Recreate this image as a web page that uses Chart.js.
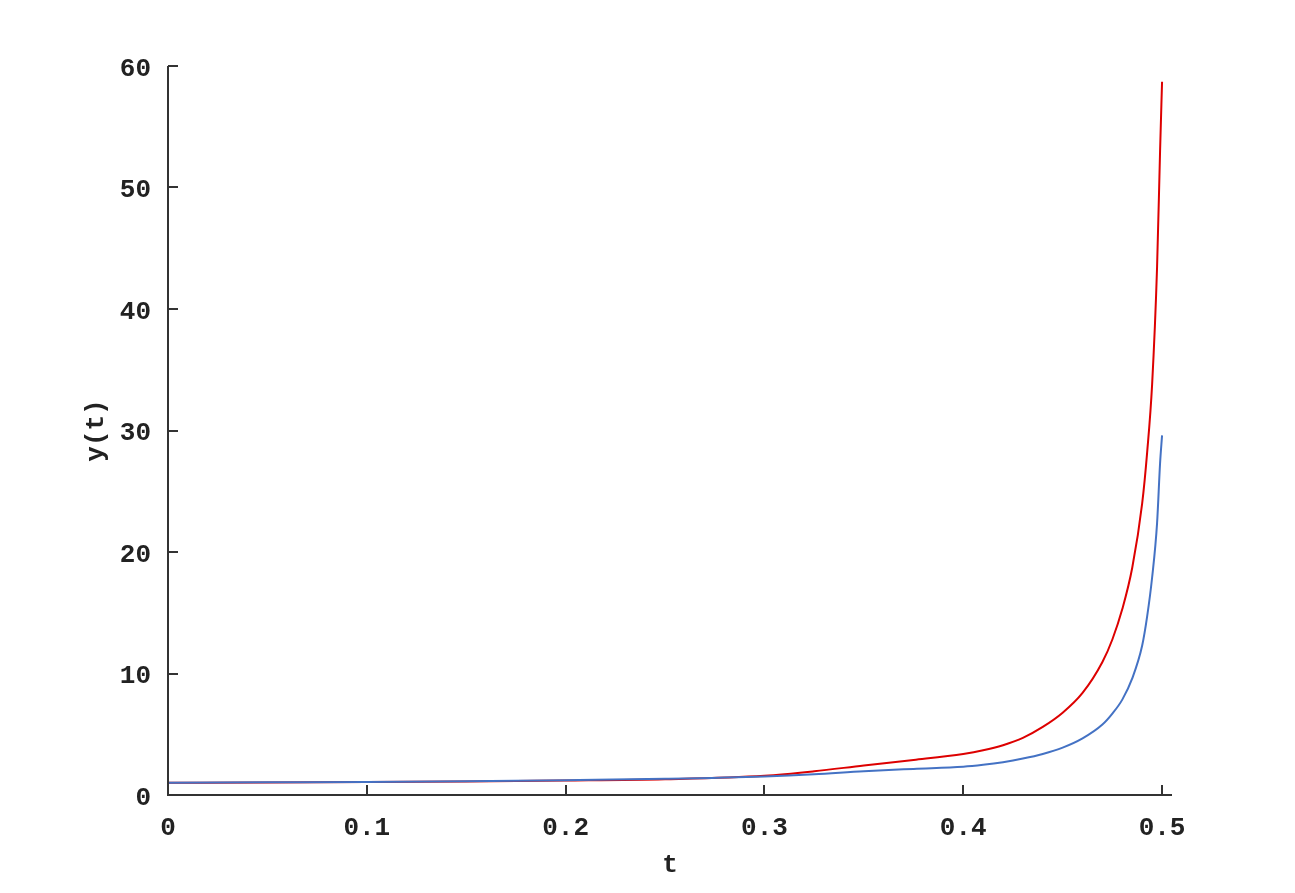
<!DOCTYPE html>
<html>
<head>
<meta charset="utf-8">
<script src="https://cdn.jsdelivr.net/npm/chart.js@4.4.1/dist/chart.umd.min.js"></script>
<style>
html,body{margin:0;padding:0;background:#fff;}
#wrap{width:1295px;height:893px;position:relative;}
</style>
</head>
<body>
<div id="wrap"><canvas id="c" width="1295" height="893"></canvas></div>
<script>
const tValues = [0, 0.05, 0.1, 0.15, 0.2, 0.25, 0.3, 0.325, 0.35, 0.375, 0.4, 0.41, 0.42, 0.43, 0.44, 0.45, 0.46, 0.47, 0.475, 0.48, 0.485, 0.49, 0.4925, 0.495, 0.4975, 0.499, 0.5];
const redValues = [1.0, 1.03, 1.07, 1.12, 1.19, 1.3, 1.58, 1.95, 2.43, 2.88, 3.38, 3.68, 4.1, 4.7, 5.6, 6.77, 8.4, 10.95, 12.8, 15.3, 18.7, 24.0, 28.2, 33.8, 43.5, 53.0, 58.7];
const blueValues = [1.0, 1.04, 1.08, 1.14, 1.22, 1.33, 1.52, 1.7, 1.96, 2.15, 2.32, 2.48, 2.7, 3.0, 3.38, 3.9, 4.66, 5.8, 6.7, 7.85, 9.6, 12.3, 14.7, 17.9, 22.4, 27.3, 29.6];
const xTicks = [0, 0.1, 0.2, 0.3, 0.4, 0.5];
const yTicks = [0, 10, 20, 30, 40, 50, 60];

const FONT = "'Liberation Mono', 'DejaVu Sans Mono', monospace";
const AXIS_COLOR = '#333333';

const innerTicks = {
  id: 'innerTicks',
  afterDatasetsDraw(chart) {
    const ctx = chart.ctx;
    const xs = chart.scales.x, ys = chart.scales.y;
    const a = chart.chartArea;
    ctx.save();
    ctx.strokeStyle = AXIS_COLOR;
    ctx.lineWidth = 2;
    ctx.beginPath();
    ctx.moveTo(a.left, a.top);
    ctx.lineTo(a.left, a.bottom);
    ctx.lineTo(a.right, a.bottom);
    ctx.stroke();
    ctx.beginPath();
    xTicks.forEach(v => {
      if (v === 0) return;
      const px = Math.round(xs.getPixelForValue(v));
      ctx.moveTo(px, a.bottom);
      ctx.lineTo(px, a.bottom - 10);
    });
    yTicks.forEach(v => {
      if (v === 0) return;
      const py = Math.round(ys.getPixelForValue(v));
      ctx.moveTo(a.left, py);
      ctx.lineTo(a.left + 10, py);
    });
    ctx.stroke();
    ctx.restore();
  }
};

new Chart(document.getElementById('c'), {
  type: 'line',
  data: {
    datasets: [
      {
        data: tValues.map((t, i) => ({x: t, y: blueValues[i]})),
        borderColor: '#4472c4',
        borderWidth: 2,
        pointRadius: 0,
        cubicInterpolationMode: 'monotone',
        fill: false
      },
      {
        data: tValues.map((t, i) => ({x: t, y: redValues[i]})),
        borderColor: '#dd0000',
        borderWidth: 2,
        pointRadius: 0,
        cubicInterpolationMode: 'monotone',
        fill: false
      }
    ]
  },
  options: {
    responsive: false,
    animation: false,
    layout: {padding: {top: 66, right: 123, left: 0, bottom: 0}},
    plugins: {legend: {display: false}, tooltip: {enabled: false}},
    scales: {
      x: {
        type: 'linear',
        min: 0,
        max: 0.505,
        afterBuildTicks: s => { s.ticks = xTicks.map(v => ({value: v})); },
        afterFit: s => { s.height = 98; },
        border: {display: false},
        grid: {display: false, drawTicks: false},
        ticks: {
          color: '#222',
          font: {family: FONT, size: 26, weight: 'bold'},
          padding: 18,
          maxRotation: 0,
          callback: v => String(v)
        },
        title: {
          display: true,
          text: 't',
          color: '#222',
          font: {family: FONT, size: 26, weight: 'bold'},
          padding: {top: 0, bottom: 12}
        }
      },
      y: {
        type: 'linear',
        min: 0,
        max: 60,
        afterBuildTicks: s => { s.ticks = yTicks.map(v => ({value: v})); },
        afterFit: s => { s.width = 168; },
        border: {display: false},
        grid: {display: false, drawTicks: false},
        ticks: {
          color: '#222',
          font: {family: FONT, size: 26, weight: 'bold'},
          padding: 17,
          labelOffset: 3,
          callback: v => String(v)
        },
        title: {
          display: true,
          text: 'y(t)',
          color: '#222',
          font: {family: FONT, size: 26, weight: 'bold'},
          padding: {top: 81, bottom: 0}
        }
      }
    }
  },
  plugins: [innerTicks]
});
</script>
</body>
</html>
